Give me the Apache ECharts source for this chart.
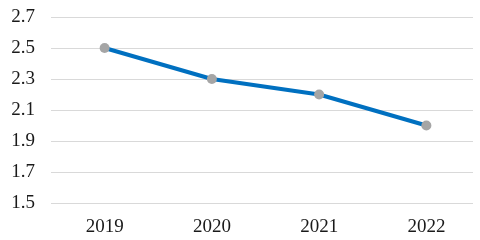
<!DOCTYPE html>
<html>
<head>
<meta charset="utf-8">
<script src="https://cdn.jsdelivr.net/npm/echarts@6/dist/echarts.min.js"></script>
<style>html,body{margin:0;padding:0;background:#fff;}#c{width:480px;height:240px;}</style>
</head>
<body>
<div id="c"></div>
<script>
var categories = ['2019', '2020', '2021', '2022'];
var values = [2.5, 2.3, 2.2, 2.0];
var yMin = 1.5, yMax = 2.7, yStep = 0.2;

var chart = echarts.init(document.getElementById('c'), null, {renderer: 'canvas'});
var font = '"Liberation Serif", "Times New Roman", serif';
chart.setOption({
  animation: false,
  grid: [
    {left: 51, top: 17, width: 432, bottom: 37},
    {left: 51, top: 17, right: 7, bottom: 37}
  ],
  xAxis: [
    {type: 'category', gridIndex: 0, data: categories, boundaryGap: true,
     axisLine: {show: false}, axisTick: {show: false},
     axisLabel: {color: '#1a1a1a', fontFamily: font, fontSize: 19, margin: 15}},
    {type: 'category', gridIndex: 1, data: categories, show: false}
  ],
  yAxis: [
    {type: 'value', gridIndex: 0, min: yMin, max: yMax, interval: yStep, show: false},
    {type: 'value', gridIndex: 1, min: yMin, max: yMax, interval: yStep,
     axisLine: {show: false}, axisTick: {show: false},
     splitLine: {lineStyle: {color: '#D9D9D9', width: 1}},
     axisLabel: {color: '#1a1a1a', fontFamily: font, fontSize: 19, margin: 16,
       formatter: function (v) { return v.toFixed(1); }}}
  ],
  series: [{
    type: 'line', xAxisIndex: 0, yAxisIndex: 0, data: values,
    symbol: 'circle', symbolSize: 10,
    lineStyle: {color: '#0070C0', width: 4},
    itemStyle: {color: '#A5A5A5', borderWidth: 0},
    z: 5
  }]
});
</script>
</body>
</html>
